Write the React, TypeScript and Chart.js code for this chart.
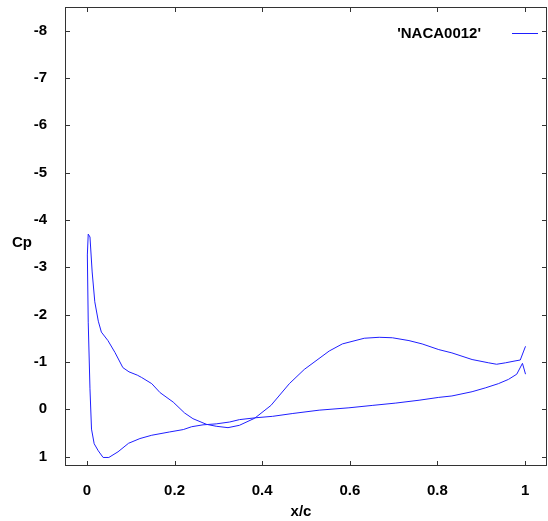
import React, { useEffect, useRef } from "react";
import { Chart, registerables } from "chart.js";

Chart.register(...registerables);

// Pressure coefficient along the airfoil surface (one closed polyline:
// trailing edge -> lower branch -> leading edge -> upper branch -> trailing edge)
const xOverC: number[] = [
  1.001, 0.994, 0.981, 0.962, 0.939, 0.909, 0.879, 0.833, 0.803, 0.758, 0.705,
  0.651, 0.598, 0.53, 0.47, 0.424, 0.386, 0.348, 0.326, 0.295, 0.265, 0.239,
  0.22, 0.189, 0.148, 0.121, 0.095, 0.071, 0.05, 0.037, 0.026, 0.0166, 0.0105,
  0.007, 0.003, 0.001, 0.003,
  0.007, 0.012, 0.018, 0.026, 0.033, 0.048, 0.064, 0.082, 0.096, 0.115, 0.125,
  0.148, 0.167, 0.197, 0.223, 0.242, 0.273, 0.295, 0.322, 0.348, 0.383, 0.42,
  0.462, 0.496, 0.553, 0.583, 0.633, 0.667, 0.697, 0.735, 0.765, 0.803, 0.833,
  0.879, 0.917, 0.935, 0.955, 0.977, 0.989, 0.996, 1.001,
];
const cp: number[] = [
  -0.74, -0.97, -0.74, -0.63, -0.54, -0.45, -0.37, -0.28, -0.25, -0.19, -0.13,
  -0.08, -0.03, 0.02, 0.09, 0.15, 0.18, 0.22, 0.27, 0.31, 0.33, 0.37,
  0.43, 0.48, 0.55, 0.62, 0.72, 0.9, 1.02, 1.02, 0.88, 0.73, 0.42,
  -0.43, -1.84, -3.26, -3.7,
  -3.64, -2.9, -2.27, -1.86, -1.63, -1.45, -1.2, -0.88, -0.79, -0.72, -0.67,
  -0.54, -0.35, -0.15, 0.08, 0.2, 0.32, 0.36, 0.39, 0.34, 0.19, -0.08,
  -0.54, -0.84, -1.23, -1.38, -1.5, -1.52, -1.51, -1.45, -1.38, -1.26, -1.19,
  -1.05, -0.98, -0.95, -0.98, -1.02, -1.04, -1.21, -1.33,
];

const xTicks: number[] = [0, 0.2, 0.4, 0.6, 0.8, 1];
const yTicks: number[] = [1, 0, -1, -2, -3, -4, -5, -6, -7, -8];
const seriesLabel = "'NACA0012'";
const xTitle = "x/c";
const yTitle = "Cp";

const LINE_COLOR = "#1f1fff";
const FONT = '"Liberation Sans", Arial, sans-serif';

const overlay = {
  id: "overlay",
  afterDraw(chart: any) {
    const { ctx, chartArea: a, scales } = chart;
    const xs = scales.x;
    const ys = scales.y;
    ctx.save();
    ctx.strokeStyle = "#333";
    ctx.lineWidth = 1;
    ctx.strokeRect(a.left + 0.5, a.top + 0.5, a.right - a.left - 1, a.bottom - a.top - 1);
    ctx.beginPath();
    for (const v of xTicks) {
      const p = Math.round(xs.getPixelForValue(v)) + 0.5;
      ctx.moveTo(p, a.bottom);
      ctx.lineTo(p, a.bottom - 5);
      ctx.moveTo(p, a.top);
      ctx.lineTo(p, a.top + 5);
    }
    for (const v of yTicks) {
      const p = Math.round(ys.getPixelForValue(v)) + 0.5;
      ctx.moveTo(a.left, p);
      ctx.lineTo(a.left + 5, p);
      ctx.moveTo(a.right, p);
      ctx.lineTo(a.right - 5, p);
    }
    ctx.stroke();

    // legend (text then sample line)
    ctx.font = `bold 15px ${FONT}`;
    ctx.fillStyle = "#000";
    ctx.textAlign = "right";
    ctx.textBaseline = "middle";
    ctx.fillText(seriesLabel, a.right - 66, a.top + 27);
    ctx.strokeStyle = LINE_COLOR;
    ctx.beginPath();
    ctx.moveTo(a.right - 35, a.top + 26.5);
    ctx.lineTo(a.right - 9, a.top + 26.5);
    ctx.stroke();

    // axis titles
    ctx.fillStyle = "#000";
    ctx.textAlign = "center";
    ctx.fillText(yTitle, 22, 243);
    ctx.fillText(xTitle, (a.left + a.right) / 2 - 5, 512);
    ctx.restore();
  },
};

export default function App() {
  const ref = useRef<HTMLCanvasElement | null>(null);

  useEffect(() => {
    if (!ref.current) return;
    const data = xOverC.map((x, i) => ({ x, y: cp[i] }));
    const chart = new Chart(ref.current, {
      type: "scatter",
      data: {
        datasets: [
          {
            label: seriesLabel,
            data,
            showLine: true,
            borderColor: LINE_COLOR,
            backgroundColor: LINE_COLOR,
            borderWidth: 1,
            pointRadius: 0,
            tension: 0,
          },
        ],
      },
      plugins: [overlay],
      options: {
        responsive: false,
        animation: false,
        layout: { padding: { top: 7, right: 1, left: 0, bottom: 0 } },
        plugins: { legend: { display: false }, tooltip: { enabled: false } },
        scales: {
          x: {
            type: "linear",
            min: -0.05,
            max: 1.05,
            grid: { display: false, drawTicks: false },
            border: { display: false },
            afterBuildTicks: (s: any) => {
              s.ticks = xTicks.map((v) => ({ value: v }));
            },
            afterFit: (s: any) => {
              s.height = 55;
              s.paddingLeft = 0;
              s.paddingRight = 0;
              s.paddingTop = 0;
              s.paddingBottom = 0;
            },
            ticks: {
              padding: 16,
              color: "#000",
              font: { family: FONT, size: 15, weight: "bold" },
              maxRotation: 0,
              autoSkip: false,
              callback: (v: any) => String(v),
            },
          },
          y: {
            type: "linear",
            reverse: true,
            min: -8.5,
            max: 1.2,
            grid: { display: false, drawTicks: false },
            border: { display: false },
            afterBuildTicks: (s: any) => {
              s.ticks = yTicks.map((v) => ({ value: v }));
            },
            afterFit: (s: any) => {
              s.width = 65;
              s.paddingLeft = 0;
              s.paddingRight = 0;
              s.paddingTop = 0;
              s.paddingBottom = 0;
            },
            ticks: {
              padding: 18,
              color: "#000",
              font: { family: FONT, size: 15, weight: "bold" },
              autoSkip: false,
              callback: (v: any) => String(v),
            },
          },
        },
      },
    });
    return () => chart.destroy();
  }, []);

  return (
    <div style={{ position: "absolute", left: 0, top: 0, width: 548, height: 521, background: "#fff" }}>
      <canvas ref={ref} width={548} height={521} />
    </div>
  );
}
